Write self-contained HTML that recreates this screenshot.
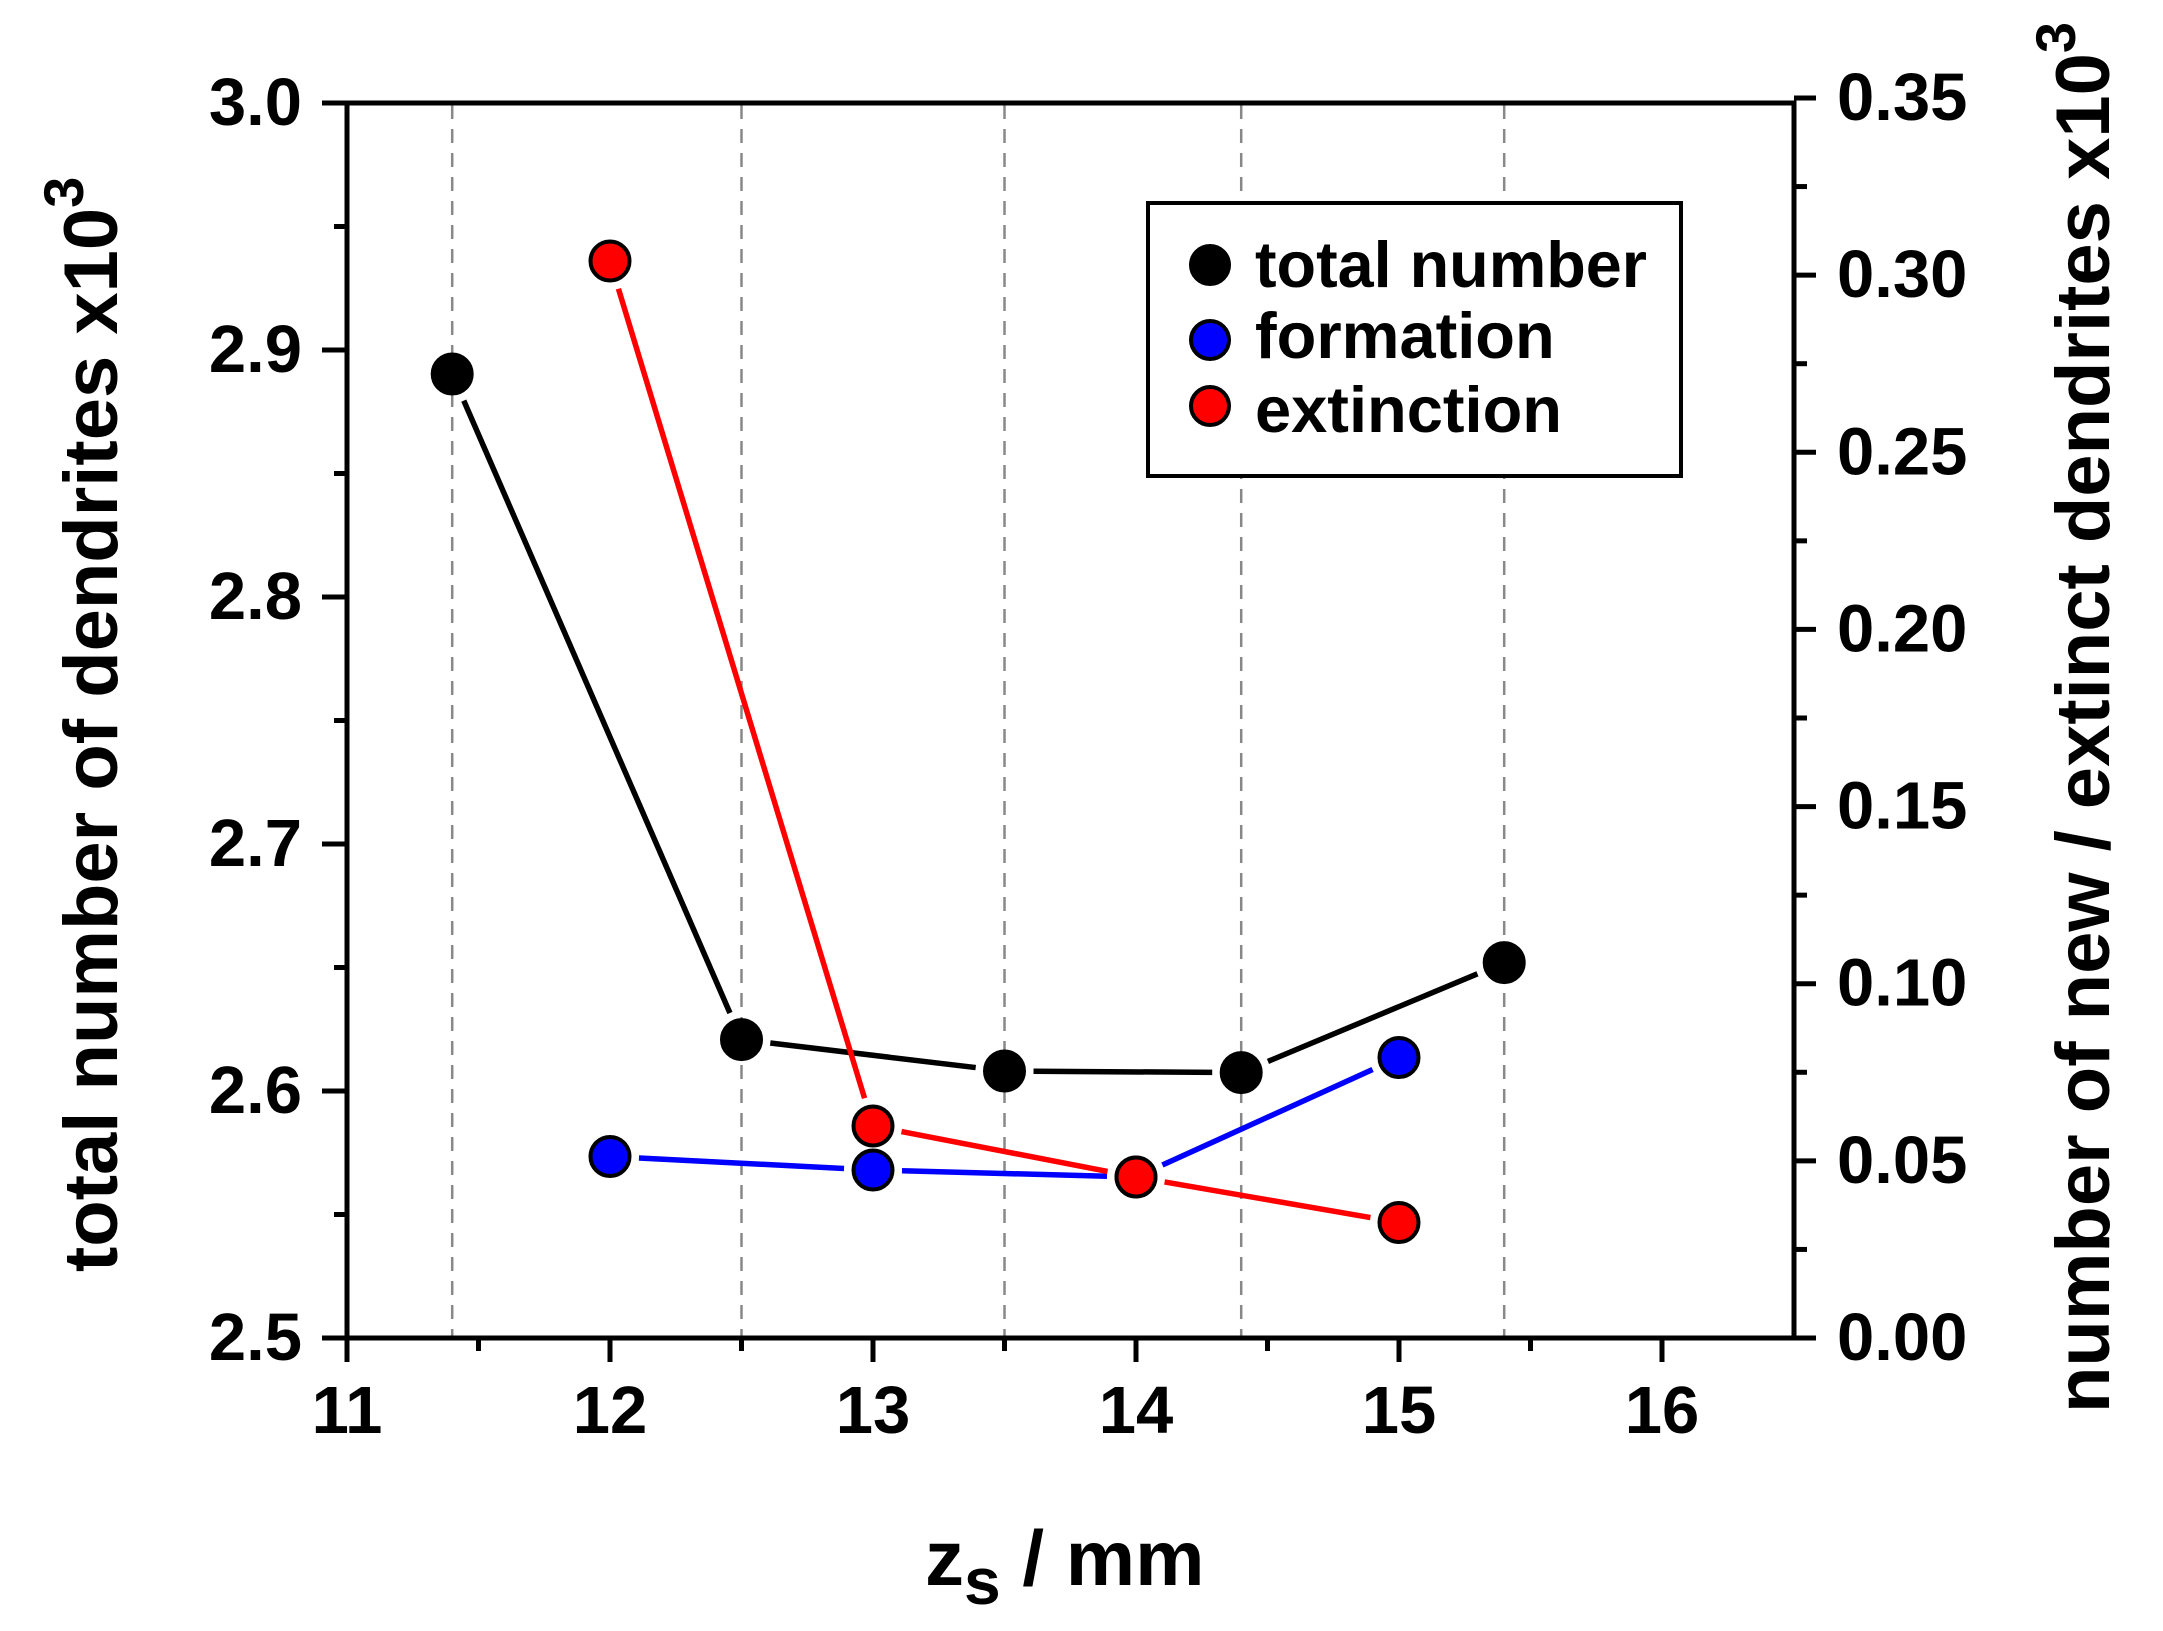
<!DOCTYPE html>
<html><head><meta charset="utf-8"><style>
html,body{margin:0;padding:0;background:#fff;}
svg{display:block;font-family:"Liberation Sans",Arial,sans-serif;font-weight:bold;}
</style></head><body>
<svg id="s" width="2163" height="1631" viewBox="0 0 2163 1631" xmlns="http://www.w3.org/2000/svg">
<rect width="2163" height="1631" fill="#fff"/>
<g id="grid" stroke="#888" stroke-width="2.5" stroke-dasharray="14 10"></g>
<g id="lines" fill="none" stroke-width="5.5" stroke-linecap="butt"></g>
<g id="marks"></g>
<rect x="347" y="103" width="1447" height="1235" fill="none" stroke="#000" stroke-width="5"/>
<g id="ticks" stroke="#000" stroke-width="5"></g>
<g id="labels" font-size="67" fill="#000"></g>
<!-- legend -->
<rect x="1148" y="203" width="533" height="273" fill="#fff" stroke="#000" stroke-width="4"/>
<circle cx="1210" cy="265" r="19" fill="#000" stroke="#000" stroke-width="4"/>
<circle cx="1210" cy="340" r="19" fill="#0000ff" stroke="#000" stroke-width="4"/>
<circle cx="1210" cy="406" r="19" fill="#ff0000" stroke="#000" stroke-width="4"/>
<text x="1255" y="287" font-size="65" textLength="392" lengthAdjust="spacingAndGlyphs">total number</text>
<text x="1255" y="358" font-size="65">formation</text>
<text x="1255" y="432" font-size="65">extinction</text>
<!-- axis titles -->
<text transform="translate(117,1272) rotate(-90)" font-size="76">total number of dendrites x10<tspan font-size="56" dy="-34">3</tspan></text>
<text transform="translate(2109,1413) rotate(-90)" font-size="76">number of new / extinct dendrites x10<tspan font-size="56" dy="-34">3</tspan></text>
<text x="925" y="1585" font-size="78">z<tspan font-size="66" dy="19">s</tspan><tspan dy="-19"> / mm</tspan></text>
</svg>
<script>
var NS="http://www.w3.org/2000/svg";
function el(p,t,a,txt){var e=document.createElementNS(NS,t);for(var k in a)e.setAttribute(k,a[k]);if(txt!=null)e.textContent=txt;document.getElementById(p).appendChild(e);return e;}
function X(v){return 347+(v-11)*263;}
function YL(v){return 1338-(v-2.5)*2470;}
function YR(v){return 1338-v*3542.9;}
[11.4,12.5,13.5,14.4,15.4].forEach(function(v){el("grid","line",{x1:X(v),x2:X(v),y1:105,y2:1336});});
for(var v=11;v<=16.001;v+=0.5){var maj=Math.abs(v-Math.round(v))<1e-6;el("ticks","line",{x1:X(v),x2:X(v),y1:1338,y2:1338+(maj?24:13)});
 if(maj)el("labels","text",{x:X(v),y:1433,"text-anchor":"middle"},String(Math.round(v)));}
for(var i=0;i<=10;i++){var v=2.5+i*0.05,maj=i%2==0,y=YL(v);el("ticks","line",{x1:347,x2:347-(maj?25:13),y1:y,y2:y});
 if(maj)el("labels","text",{x:302,y:y+22,"text-anchor":"end"},v.toFixed(1));}
for(var i=0;i<=14;i++){var v=i*0.025,maj=i%2==0,y=YR(v);el("ticks","line",{x1:1794,x2:1794+(maj?22:13),y1:y,y2:y});
 if(maj)el("labels","text",{x:1837,y:y+22},v.toFixed(2));}
var S=[
 {c:"#000",f:"#000",p:[[11.4,374],[12.5,1039.6],[13.5,1071],[14.4,1072.6],[15.4,962.6]]},
 {c:"#0000ff",f:"#0000ff",p:[[12,1156.5],[13,1170],[14,1177],[15,1057.5]]},
 {c:"#ff0000",f:"#ff0000",p:[[12,261],[13,1126],[14,1177],[15,1222.5]]}
];
S.forEach(function(s){for(var i=0;i<s.p.length-1;i++){var x1=X(s.p[i][0]),y1=s.p[i][1],x2=X(s.p[i+1][0]),y2=s.p[i+1][1];
 var dx=x2-x1,dy=y2-y1,L=Math.sqrt(dx*dx+dy*dy),g=29;
 el("lines","line",{x1:x1+dx*g/L,y1:y1+dy*g/L,x2:x2-dx*g/L,y2:y2-dy*g/L,stroke:s.c});}});
S.forEach(function(s){s.p.forEach(function(p){el("marks","circle",{cx:X(p[0]),cy:p[1],r:19.5,fill:s.f,stroke:"#000","stroke-width":4});});});
</script>
</body></html>
